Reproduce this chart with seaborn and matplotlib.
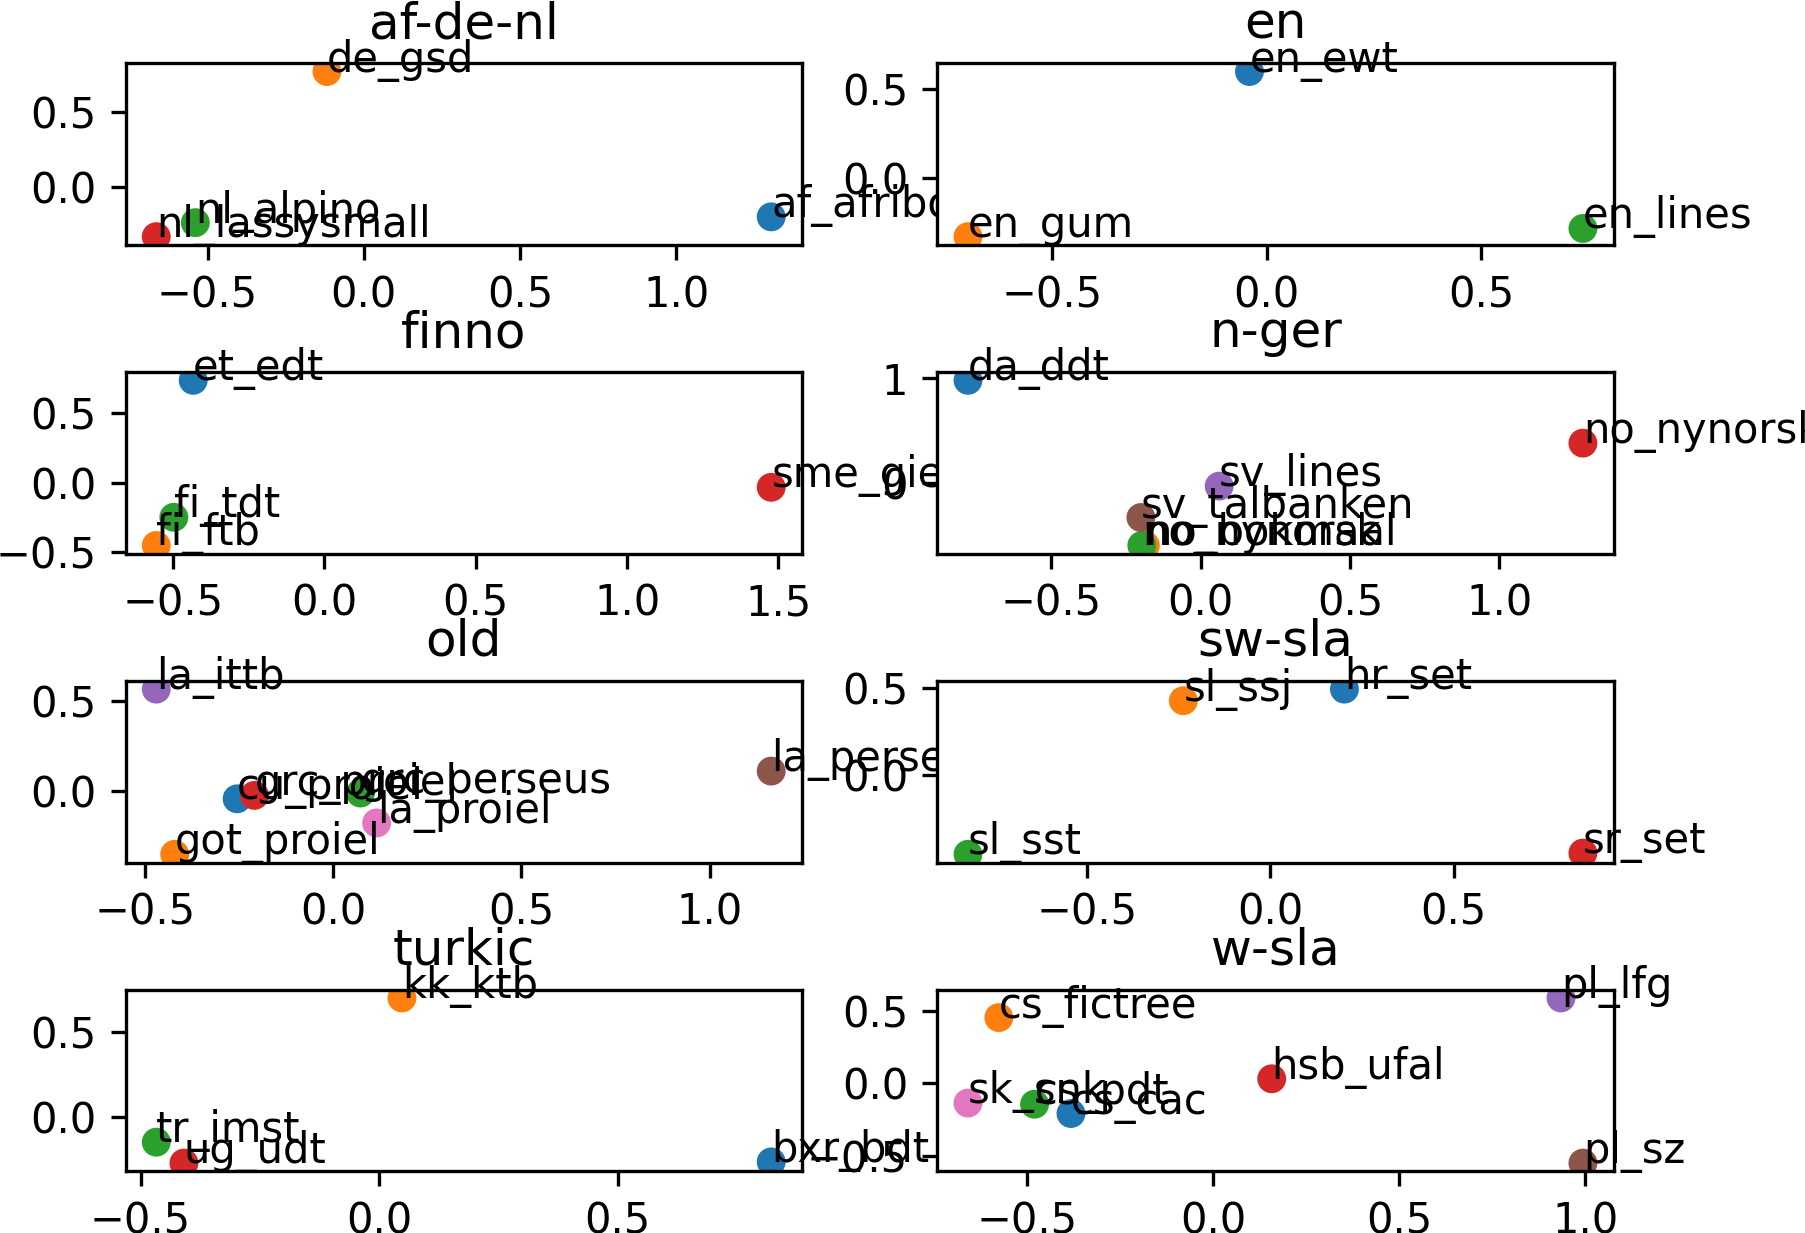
import matplotlib
matplotlib.use("Agg")
import matplotlib.pyplot as plt
import seaborn as sns

# -------------------------------
# DATA (one group per panel)
# -------------------------------
titles = ["af-de-nl", "en", "finno", "n-ger", "old", "sw-sla", "turkic", "w-sla"]

afdenl_names = ["af_afribooms", "de_gsd", "nl_alpino", "nl_lassysmall"]
afdenl_x = [1.303, -0.118, -0.539, -0.664]
afdenl_y = [-0.203, 0.773, -0.242, -0.336]

en_names = ["en_ewt", "en_gum", "en_lines"]
en_x = [-0.040, -0.696, 0.737]
en_y = [0.596, -0.330, -0.284]

finno_names = ["et_edt", "fi_ftb", "fi_tdt", "sme_giella"]
finno_x = [-0.433, -0.555, -0.497, 1.476]
finno_y = [0.734, -0.450, -0.248, -0.033]

nger_names = ["da_ddt", "no_bokmaal", "no_nynorsk", "no_nynorsklia", "sv_lines", "sv_talbanken"]
nger_x = [-0.779, -0.185, -0.197, 1.280, 0.062, -0.200]
nger_y = [0.978, -0.600, -0.600, 0.378, -0.033, -0.333]

old_names = ["cu_proiel", "got_proiel", "grc_perseus", "grc_proiel", "la_ittb", "la_perseus", "la_proiel"]
old_x = [-0.256, -0.422, 0.072, -0.210, -0.471, 1.164, 0.115]
old_y = [-0.045, -0.353, -0.013, -0.026, 0.564, 0.109, -0.179]

swsla_names = ["hr_set", "sl_ssj", "sl_sst", "sr_set"]
swsla_x = [0.202, -0.237, -0.824, 0.852]
swsla_y = [0.491, 0.425, -0.452, -0.445]

turkic_names = ["bxr_bdt", "kk_ktb", "tr_imst", "ug_udt"]
turkic_x = [0.822, 0.048, -0.467, -0.409]
turkic_y = [-0.264, 0.700, -0.148, -0.271]

wsla_names = ["cs_cac", "cs_fictree", "cs_pdt", "hsb_ufal", "pl_lfg", "pl_sz", "sk_snk"]
wsla_x = [-0.383, -0.577, -0.481, 0.157, 0.935, 0.994, -0.660]
wsla_y = [-0.207, 0.453, -0.143, 0.032, 0.588, -0.548, -0.135]

groups = [
    (afdenl_names, afdenl_x, afdenl_y),
    (en_names, en_x, en_y),
    (finno_names, finno_x, finno_y),
    (nger_names, nger_x, nger_y),
    (old_names, old_x, old_y),
    (swsla_names, swsla_x, swsla_y),
    (turkic_names, turkic_x, turkic_y),
    (wsla_names, wsla_x, wsla_y),
]

# -------------------------------
# PLOT
# -------------------------------
fig = plt.figure(figsize=(1806 / 300, 1233 / 300), dpi=300)
plt.subplots_adjust(left=0.0695, right=0.8935, top=0.9487, bottom=0.05,
                    wspace=0.2, hspace=0.7)

palette = sns.color_palette("tab10")

for i, (title, (names, xs, ys)) in enumerate(zip(titles, groups)):
    ax = fig.add_subplot(4, 2, i + 1)
    sns.scatterplot(x=xs, y=ys, hue=names, palette=palette[:len(names)],
                    s=48, linewidth=0, legend=False, ax=ax)
    for name, x, y in zip(names, xs, ys):
        ax.annotate(name, (x, y))
    ax.set_title(title)

plt.savefig("out.png", dpi=300)
plt.close()
